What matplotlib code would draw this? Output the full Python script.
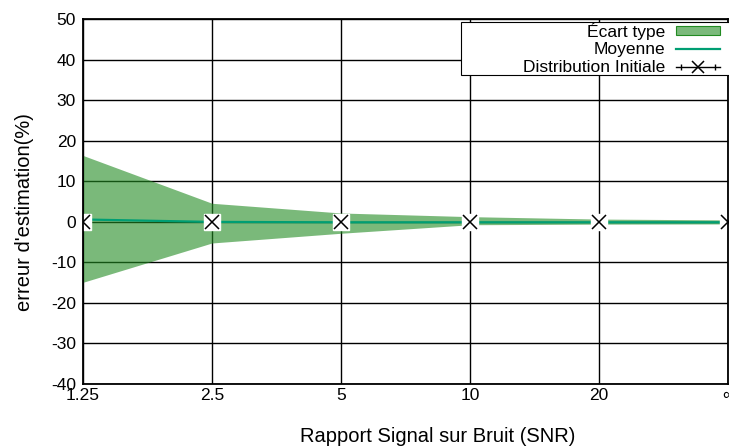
import matplotlib
matplotlib.use("Agg")
import matplotlib.pyplot as plt
from matplotlib.lines import Line2D
from matplotlib.patches import Rectangle, Patch
from matplotlib.legend_handler import HandlerLine2D, HandlerTuple
import numpy as np

plt.rcParams['font.family'] = ['Liberation Sans', 'DejaVu Sans']
plt.rcParams['font.size'] = 12.5
plt.rcParams['axes.unicode_minus'] = False

snr_labels = ['1.25', '2.5', '5', '10', '20', '∞']
std_upper = [16.4, 4.6, 2.2, 1.3, 0.7, 0.5]
std_lower = [-14.9, -5.2, -2.8, -0.7, -0.55, -0.5]
mean_vals = [0.6, 0.0, -0.1, -0.1, -0.1, -0.1]
initial_vals = [0, 0, 0, 0, 0, 0]
yticks = [-40, -30, -20, -10, 0, 10, 20, 30, 40, 50]

W, H = 729, 446
fig = plt.figure(figsize=(W / 100, H / 100), dpi=100)
ax = fig.add_axes([83 / W, 1 - 384 / H, (728 - 83) / W, (384 - 19.3) / H])

x = np.arange(len(snr_labels))

ax.fill_between(x, std_lower, std_upper, color='#228B22', alpha=0.6, lw=0, zorder=2)
ax.plot(x, mean_vals, color='#009e73', lw=1.6, zorder=3)
ax.plot(x, initial_vals, ls='none', marker='s', ms=11, mfc='white', mec='white', zorder=4)
ax.plot(x, initial_vals, ls='none', marker='x', ms=10, mew=1.1, color='black', zorder=5)

ax.set_xlim(0, len(snr_labels) - 1)
ax.set_ylim(-40, 50)
ax.set_xticks(x)
ax.set_xticklabels(snr_labels)
ax.set_yticks(yticks)
ax.grid(True, color='black', lw=1.0, zorder=0)
ax.set_axisbelow(True)
ax.tick_params(length=0, pad=5, labelsize=12.5)
ax.tick_params(axis='x', pad=3)
for s in ax.spines.values():
    s.set_linewidth(1.3)
    s.set_zorder(6)

fig.text(438 / W, 1 - 436 / H, 'Rapport Signal sur Bruit (SNR)', ha='center', va='center', fontsize=14.5)
fig.text(25 / W, 1 - 212 / H, "erreur d'estimation(%)", ha='center', va='center', rotation=90, fontsize=14.5)

# legend
h_band = Patch(facecolor='#7bb97b', edgecolor='#228B22', lw=0.8)
h_mean = Line2D([], [], color='#009e73', lw=1.6)
h_init_line = Line2D([], [], color='black', lw=1.0, marker='x', ms=9, mew=1.1)
h_init_caps = Line2D([], [], color='black', ls='none', marker='|', ms=5, mew=1.0)
leg = fig.legend([h_band, h_mean, (h_init_line, h_init_caps)],
                 ['Écart type', 'Moyenne', 'Distribution Initiale'],
                 loc='upper right', bbox_to_anchor=(720 / W, 1 - 22.5 / H),
                 frameon=False, markerfirst=False, borderpad=0, borderaxespad=0,
                 handlelength=2.55, handletextpad=0.6, labelspacing=0.14,
                 handleheight=0.42, fontsize=12.5,
                 handler_map={h_init_caps: HandlerLine2D(numpoints=2),
                              tuple: HandlerTuple(ndivide=1, pad=0)})
fig.patches.append(Rectangle((461 / W, 1 - 74.5 / H), (740 - 461) / W, (74.5 - 22) / H,
                             transform=fig.transFigure, facecolor='white',
                             edgecolor='black', lw=0.8, zorder=1, figure=fig))

fig.savefig('out.png', dpi=100)
